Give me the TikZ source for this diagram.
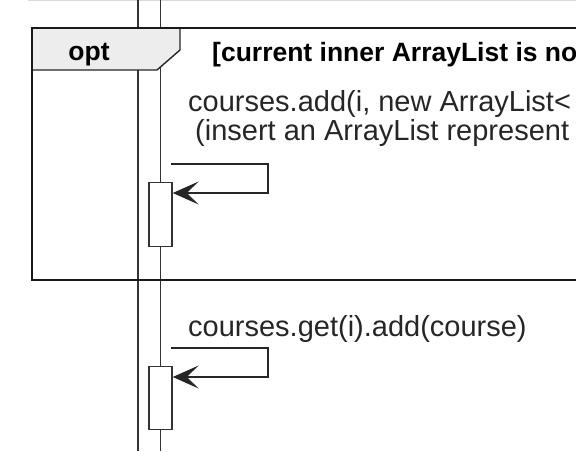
\documentclass[tikz,border=0pt]{standalone}
\usepackage{fontspec}
\setmainfont{Liberation Sans}
\usetikzlibrary{arrows.meta,positioning}

\begin{document}
\begin{tikzpicture}[x=1pt,y=-1pt,
  life/.style={draw=black!80,line width=1.4pt},
  act/.style={draw=black!80,fill=white,line width=1.4pt,minimum width=23pt,inner sep=0pt,anchor=north},
  msg/.style={font=\fontsize{29}{29}\selectfont,text=black!85,inner sep=0pt,anchor=base west},
  guard/.style={font=\fontsize{26.5}{26.5}\selectfont\bfseries,inner sep=0pt},
  call/.style={-{Stealth[length=26pt,width=23pt,inset=12pt]},draw=black!85,line width=1.6pt}]
\useasboundingbox (0,0) rectangle (576,451);
\clip (0,0) rectangle (576,451);
% edge of the frame above
\draw[black!15,line width=1pt] (28,0.5) -- (576,0.5);
% lifelines
\draw[life] (138,0) -- (138,451);
\draw[life] (160.5,0) -- (160.5,451);
% opt fragment
\filldraw[fill=black!7,draw=black!85,line width=1.4pt] (32,28) -- (180,28) -- (180,50) -- (157,70) -- (32,70) -- cycle;
\draw[black!90,line width=2.6pt] (600,28) -- (32,28) -- (32,280) -- (600,280);
\node[guard,anchor=base] (opt) at (89,60) {opt};
\node[guard,anchor=base west] (cond) at (212,61) {[current inner ArrayList is not};
% first call
\node[msg] (lbl1) at (188,111) {courses.add(i, new ArrayList<};
\node[msg] (lbl1b) at (195,140) {(insert an ArrayList represent};
\node[act,minimum height=64pt] (act1) at (160.5,182) {};
\coordinate (s1) at (171,164);
\draw[call] (s1) -- (268,164) -- (268,193) -- ([yshift=-11pt]act1.north east);
% second call
\node[msg] (lbl2) at (188,336) {courses.get(i).add(course)};
\node[act,minimum height=63pt] (act2) at (160.5,366) {};
\coordinate (s2) at (171,348);
\draw[call] (s2) -- (268,348) -- (268,377) -- ([yshift=-11pt]act2.north east);
\end{tikzpicture}
\end{document}
